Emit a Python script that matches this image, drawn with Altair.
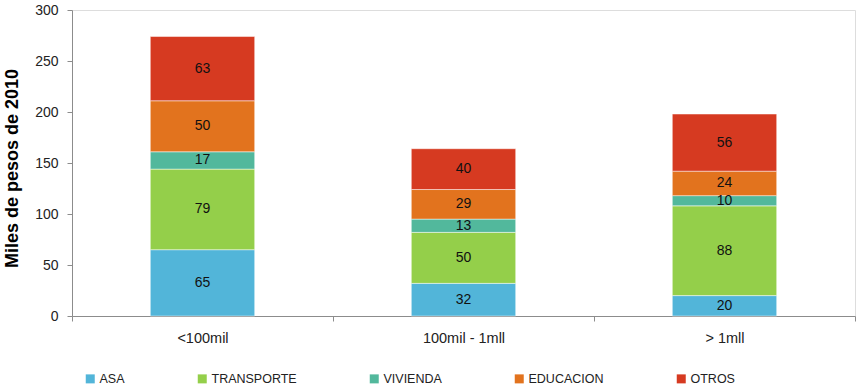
import altair as alt
import pandas as pd

categories = ["<100mil", "100mil - 1mll", "> 1mll"]
series = ["ASA", "TRANSPORTE", "VIVIENDA", "EDUCACION", "OTROS"]
asa = [65, 32, 20]
transporte = [79, 50, 88]
vivienda = [17, 13, 10]
educacion = [50, 29, 24]
otros = [63, 40, 56]
colors = ["#52b5d9", "#94cf4a", "#52b89c", "#e2731e", "#d63a21"]
y_ticks = [0, 50, 100, 150, 200, 250, 300]

values = [asa, transporte, vivienda, educacion, otros]
rows = []
for si, (s, vals) in enumerate(zip(series, values)):
    for ci, c in enumerate(categories):
        rows.append({"cat": c, "serie": s, "idx": si, "value": vals[ci]})
df = pd.DataFrame(rows)

FONT = "Liberation Sans"

x_enc = alt.X(
    "cat:N",
    sort=categories,
    scale=alt.Scale(paddingInner=0, paddingOuter=0),
    axis=alt.Axis(
        title=None, labelAngle=0, tickBand="extent", tickSize=5,
        labelPadding=10, labelFontSize=14.5, labelColor="#222",
        domainColor="#8c8c8c", tickColor="#8c8c8c", labelFont=FONT,
    ),
)
y_scale = alt.Scale(domain=[0, 300], nice=False)

base = alt.Chart(df).transform_stack(
    stack="value", groupby=["cat"], as_=["y0", "y1"],
    sort=[alt.SortField("idx", order="ascending")],
).transform_calculate(mid="(datum.y0 + datum.y1) / 2")

bars = base.mark_bar(
    width=alt.RelativeBandSize(0.4),
    stroke="white", strokeWidth=0.8, strokeOpacity=0.6,
).encode(
    x=x_enc,
    y=alt.Y(
        "y0:Q", scale=y_scale,
        axis=alt.Axis(
            title="Miles de pesos de 2010", values=y_ticks, grid=False,
            tickSize=5, labelPadding=9, labelFontSize=14, labelColor="#222",
            domainColor="#8c8c8c", tickColor="#8c8c8c", labelFont=FONT,
            titleFont=FONT, titleFontSize=18, titleFontWeight="bold",
            titleColor="#000", titlePadding=13, titleY=158,
        ),
    ),
    y2="y1:Q",
    color=alt.Color(
        "serie:N",
        scale=alt.Scale(domain=series, range=colors),
        legend=alt.Legend(
            title=None, orient="none", direction="horizontal",
            legendX=12, legendY=362.5, symbolType="square", symbolSize=81,
            symbolStrokeWidth=0, labelFontSize=12.5, labelFont=FONT,
            labelColor="#222", columnPadding=71, symbolOffset=0,
            labelOffset=3,
        ),
    ),
)

labels = base.mark_text(fontSize=14, font=FONT, color="#111").encode(
    x=alt.X("cat:N", sort=categories),
    y=alt.Y("mid:Q", scale=y_scale),
    text="value:Q",
)

chart = alt.layer(bars, labels).properties(
    width=783, height=306,
    autosize=alt.AutoSizeParams(type="none"),
    padding={"left": 72, "top": 10, "right": 3, "bottom": 71},
).configure_view(stroke=None).configure(background="white")

chart.save("out.html", embed_options={"renderer": "svg", "actions": False})
